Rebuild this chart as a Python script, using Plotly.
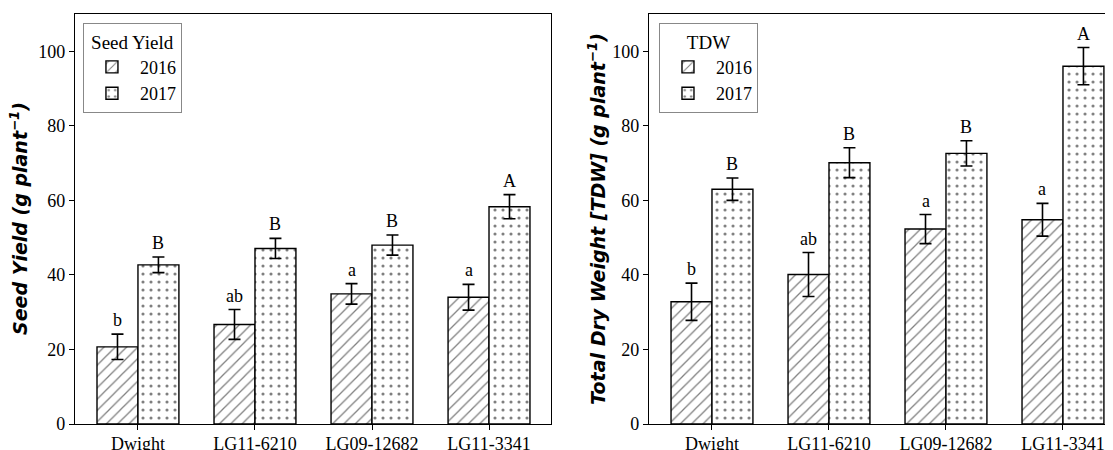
import plotly.graph_objects as go
from plotly.subplots import make_subplots

categories = ["Dwight", "LG11-6210", "LG09-12682", "LG11-3341"]
years = ["2016", "2017"]

seed_2016 = [20.7, 26.7, 34.9, 34.0]
seed_2016_err = [3.4, 4.0, 2.75, 3.45]
seed_2017 = [42.7, 47.1, 48.0, 58.3]
seed_2017_err = [2.1, 2.7, 2.7, 3.25]
seed_letters_2016 = ["b", "ab", "a", "a"]
seed_letters_2017 = ["B", "B", "B", "A"]

tdw_2016 = [32.8, 40.1, 52.3, 54.8]
tdw_2016_err = [5.0, 5.9, 3.9, 4.4]
tdw_2017 = [63.0, 70.1, 72.6, 96.0]
tdw_2017_err = [3.0, 4.0, 3.4, 5.0]
tdw_letters_2016 = ["b", "ab", "a", "a"]
tdw_letters_2017 = ["B", "B", "B", "A"]

y_ticks = [0, 20, 40, 60, 80, 100]

SERIF = "Liberation Serif"
BAR_W = 0.35

fig = make_subplots(rows=1, cols=2, horizontal_spacing=0.0)

panels = [
    (1, "x", "y", "legend",
     [(seed_2016, seed_2016_err, seed_letters_2016), (seed_2017, seed_2017_err, seed_letters_2017)]),
    (2, "x2", "y2", "legend2",
     [(tdw_2016, tdw_2016_err, tdw_letters_2016), (tdw_2017, tdw_2017_err, tdw_letters_2017)]),
]
patterns = [dict(shape="/", size=8, solidity=0.16, fgcolor="black", bgcolor="white"),
            dict(shape=".", size=8, solidity=0.12, fgcolor="black", bgcolor="white")]

annotations = []
for col, xr, yr, leg, series in panels:
    for k, (vals, errs, letters) in enumerate(series):
        fig.add_trace(go.Bar(
            x=categories, y=vals, name=years[k], legend=leg,
            marker=dict(color="white", pattern=patterns[k],
                        line=dict(color="black", width=1.4)),
            error_y=dict(type="data", array=errs, color="black", thickness=1.6, width=6),
        ), row=1, col=col)
        offset = -BAR_W / 2 if k == 0 else BAR_W / 2
        for i, (v, e, t) in enumerate(zip(vals, errs, letters)):
            annotations.append(dict(
                x=i + offset, y=v + e, xref=xr, yref=yr, text=t, showarrow=False,
                xanchor="center", yanchor="bottom", yshift=2,
                font=dict(family=SERIF, size=18, color="black")))

legend_common = dict(xanchor="left", yanchor="top", bordercolor="#888", borderwidth=1,
                     bgcolor="white", font=dict(family=SERIF, size=18, color="black"),
                     itemwidth=46, tracegroupgap=0)

fig.update_layout(
    width=1113, height=450,
    margin=dict(l=67, r=0, t=6, b=34),
    paper_bgcolor="white", plot_bgcolor="white",
    barmode="group", bargap=0.3, bargroupgap=0.0,
    font=dict(family=SERIF, size=18, color="black"),
    legend=dict(legend_common, x=0.0076, y=0.978,
                title=dict(text="Seed Yield", side="top center", font=dict(family=SERIF, size=19))),
    legend2=dict(legend_common, x=0.5583, y=0.978,
                 title=dict(text="TDW", side="top center", font=dict(family=SERIF, size=19))),
)

axis_common = dict(showline=True, linecolor="black", linewidth=1.3, ticks="outside",
                   ticklen=5, tickwidth=1.2, tickcolor="black", showgrid=False,
                   zeroline=False, automargin=False,
                   tickfont=dict(family=SERIF, size=18, color="black"))

fig.update_xaxes(axis_common, domain=[0, 0.4551], range=[-0.538, 3.53], mirror=True,
                 ticklabelstandoff=-2, row=1, col=1)
fig.update_xaxes(axis_common, domain=[0.5488, 1.0], range=[-0.538, 3.496], mirror=True,
                 ticklabelstandoff=-2, row=1, col=2)
fig.update_yaxes(axis_common, range=[0, 110], tickvals=y_ticks, mirror=True, row=1, col=1)
fig.update_yaxes(axis_common, range=[0, 110], tickvals=y_ticks, mirror=False, row=1, col=2)

annotations.append(dict(
    x=-0.0535, y=0.5, xref="paper", yref="paper", textangle=-90, showarrow=False,
    xanchor="center", yanchor="middle",
    text="<b><i>Seed Yield (g plant<sup>−1</sup>)</i></b>",
    font=dict(family="DejaVu Sans", size=19, color="black")))
annotations.append(dict(
    x=0.499, y=0.5, xref="paper", yref="paper", textangle=-90, showarrow=False,
    xanchor="center", yanchor="middle",
    text="<b><i>Total Dry Weight [TDW] (g plant<sup>−1</sup>)</i></b>",
    font=dict(family="DejaVu Sans", size=19, color="black")))

fig.update_layout(annotations=annotations)

fig.write_html("out.html")
